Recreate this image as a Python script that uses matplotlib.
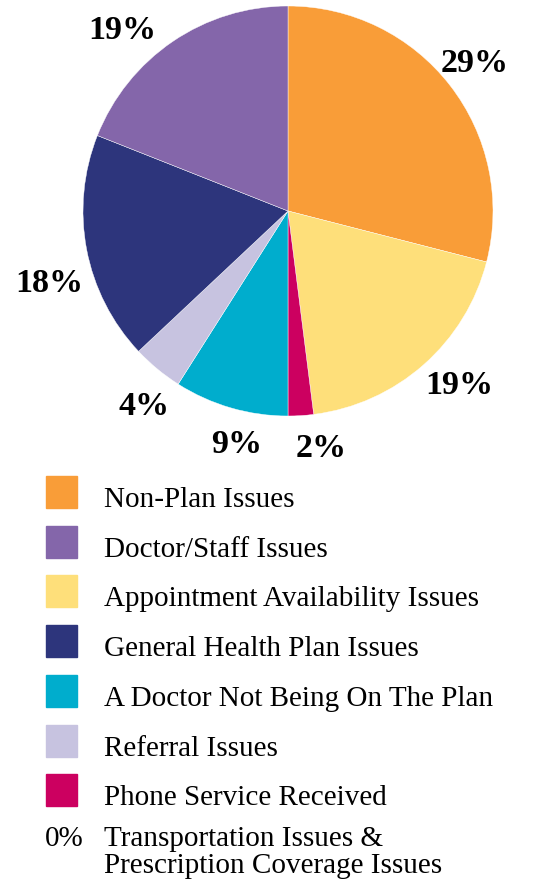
import numpy as np
import matplotlib.pyplot as plt
from matplotlib.patches import Rectangle

# datos do grafico
categorias = ["Non-Plan Issues", "Appointment Availability Issues", "Phone Service Received",
              "A Doctor Not Being On The Plan", "Referral Issues",
              "General Health Plan Issues", "Doctor/Staff Issues"]
valores = [29, 19, 2, 9, 4, 18, 19]
cores = ["#F99D38", "#FEDF7A", "#CC0060", "#00ADCD", "#C7C3E0", "#2D357C", "#8466AA"]

# ordem da legenda
ordem_legenda = ["Non-Plan Issues", "Doctor/Staff Issues", "Appointment Availability Issues",
                 "General Health Plan Issues", "A Doctor Not Being On The Plan",
                 "Referral Issues", "Phone Service Received"]
nota_zero = "0%"
texto_zero = ["Transportation Issues &", "Prescription Coverage Issues"]

# ajuste fino dos rotulos (graus no sentido horario, distancia em raios)
ajuste_angulo = [-1.2, -3.6, -4.4, -3.7, -2.6, -5.2, -7.7]
ajuste_dist = [1.17, 1.18, 1.15, 1.15, 1.17, 1.21, 1.21]

plt.rcParams['font.family'] = ['Liberation Serif', 'DejaVu Serif']

W, H = 535, 881
fig = plt.figure(figsize=(W / 100, H / 100), dpi=100)

# pizza
cx, cy, r = 288, 211, 205
ax = fig.add_axes([(cx - r) / W, 1 - (cy + r) / H, 2 * r / W, 2 * r / H])
wedges, _, autotexts = ax.pie(valores, colors=cores, startangle=90, counterclock=False,
                              autopct='%d%%',
                              wedgeprops=dict(linewidth=0.3, edgecolor='white'),
                              textprops=dict(fontsize=24.5, fontweight='bold', color='black'))
for w, t, da, dr in zip(wedges, autotexts, ajuste_angulo, ajuste_dist):
    meio = np.deg2rad((w.theta1 + w.theta2) / 2 - da)
    t.set_position((dr * np.cos(meio), dr * np.sin(meio) - 0.018))
ax.set_xlim(-1, 1)
ax.set_ylim(-1, 1)
ax.set_aspect('equal')

# legenda feita a mao
cor_por_nome = dict(zip(categorias, cores))
y0 = 476
passo = 49.7
for i, nome in enumerate(ordem_legenda):
    top = y0 + i * passo
    fig.patches.append(Rectangle((46 / W, 1 - (top + 32) / H), 31 / W, 32 / H,
                                 transform=fig.transFigure, color=cor_por_nome[nome]))
    fig.text(104 / W, 1 - (top + 31) / H, nome, fontsize=21, va='baseline')

fig.text(45 / W, 1 - 846 / H, nota_zero, fontsize=21, va='baseline')
for j, linha in enumerate(texto_zero):
    fig.text(104 / W, 1 - (846 + 27 * j) / H, linha, fontsize=21, va='baseline')

fig.savefig('out.png', dpi=100)
